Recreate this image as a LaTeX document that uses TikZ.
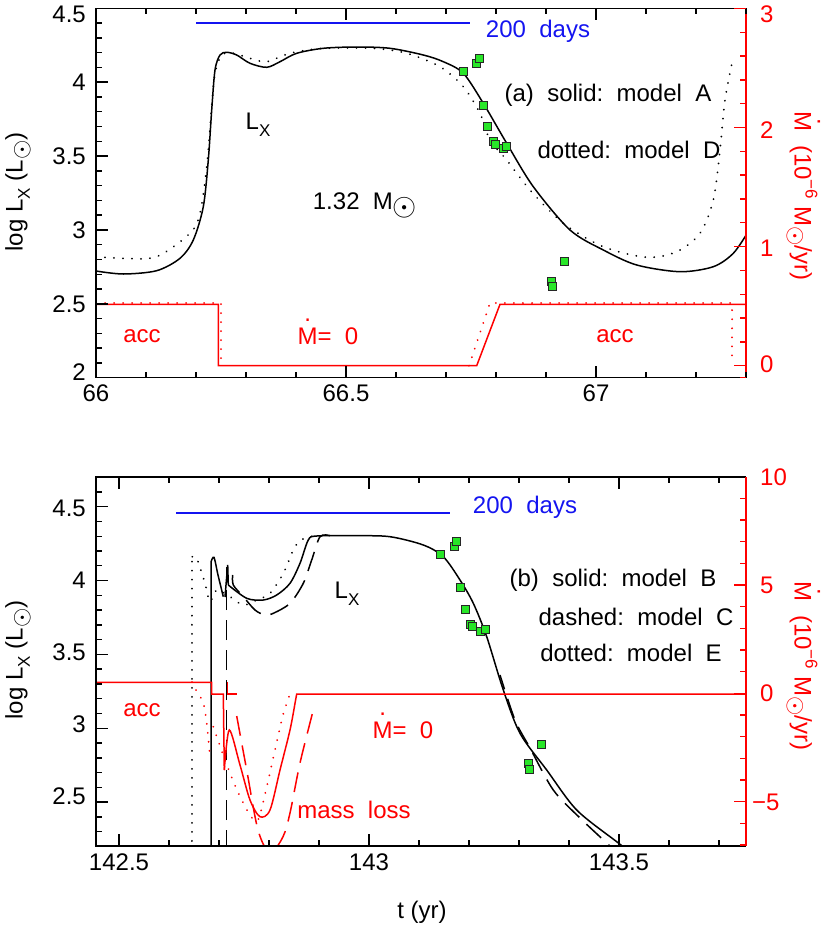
\documentclass[tikz,border=0pt]{standalone}
\usepackage{fontspec}
\usepackage{graphicx}
\setmainfont{Liberation Sans}
\definecolor{sqg}{RGB}{40,230,40}
\definecolor{dayblue}{RGB}{20,20,240}
\newcommand\sbx[1]{\raisebox{-0.3em}{\fontsize{17}{17}\selectfont #1}}
\newcommand\spx[1]{\raisebox{0.45em}{\fontsize{17}{17}\selectfont #1}}
\newcommand\sunsym{\raisebox{-0.25em}{\scalebox{1.25}{$\odot$}}}
\newcommand\sunsml{\raisebox{-0.25em}{\scalebox{1.0}{$\odot$}}}
\newcommand\Mdt{\ooalign{M\cr\hidewidth\raisebox{0.95em}{.}\hidewidth\cr}}
\tikzset{
 every node/.style={font=\fontsize{24}{28}\selectfont, inner sep=0pt},
 fr/.style={line width=1.4pt},
 cv/.style={line width=1.5pt},
 dotl/.style={line width=2pt, dash pattern=on 0.01pt off 9pt, line cap=round},
 dashl/.style={line width=1.5pt, dash pattern=on 20pt off 10pt},
 sq/.style={draw=black!85, fill=sqg, minimum size=8pt, line width=0.8pt},
}
\begin{document}
\begin{tikzpicture}[x=1pt,y=-1pt]
\useasboundingbox (0,0) rectangle (830,926);
% ================= TOP PANEL =================
\begin{scope}
\clip (96,8.3) rectangle (746,377.7);
\draw[cv] plot[smooth,tension=0.5] coordinates{(96,271)(123.3,274)(156.7,270.7)(180,258.3)(193.3,240)(203.3,206.7)(208.3,160)(211.7,110)(215,70)(220,55)(226.7,52.3)(236.7,55)(250,63.3)(266.7,67.3)(280,61.7)(296.7,53.3)(323.3,48.3)(356.7,47)(390,48.3)(423.3,55)(443.3,61.7)(463.3,73.3)(483.3,103.3)(506.7,143.3)(533.3,186.7)(570,230)(603.3,250)(636.7,265)(680,271.7)(713.3,266.7)(733.3,253.3)(748,232)};
\draw[dotl] plot[smooth,tension=0.5] coordinates{(96,256.7)(123.3,258.3)(156.7,256.7)(190,233.3)(200,213.3)(206.7,166.7)(211.7,106.7)(215,73.3)(221.7,55)(233.3,53.3)(250,58.3)(266.7,61.7)(290,53.3)(323.3,48.3)(373.3,48.3)(406.7,53.3)(440,66.7)(463.3,86.7)(480,113.3)(490,140)(506.7,160)(530,190)(563.3,223.3)(603.3,246.7)(646.7,257.3)(676.7,251.7)(700,233.3)(713.3,200)(720,150)(725,100)(733.3,56.7)};
\draw[cv,red] (96,304.3) -- (218.3,304.3) -- (218.3,365.7) -- (476.7,365.7) -- (500,304.3) -- (746,304.3);
\draw[dotl,red] (96,303) -- (221,303) -- (221,365.7) (469,365.7) -- (490,303) -- (732,303) -- (732,362);
\end{scope}
\draw[fr] (746,8.3) -- (96,8.3) -- (96,377.7) -- (746,377.7);
\draw[fr,red] (746,8.3) -- (746,377.7);
\foreach \i in {0,...,13}{\draw[fr] (96+50*\i,377.7) -- ++(0,-6) (96+50*\i,8.3) -- ++(0,6);}
\foreach \i in {0,5,10}{\draw[fr] (96+50*\i,377.7) -- ++(0,-12) (96+50*\i,8.3) -- ++(0,12);}
\foreach \i in {0,...,25}{\draw[fr] (96,8.3+14.776*\i) -- ++(6,0);}
\foreach \i in {0,5,...,25}{\draw[fr] (96,8.3+14.776*\i) -- ++(12,0);}
\foreach \i in {0,...,15}{\draw[fr,red] (746,365.7-23.82*\i) -- ++(-6,0);}
\draw[fr,red] (746,377.7) -- ++(-6,0);
\foreach \i in {0,5,10,15}{\draw[fr,red] (746,365.7-23.82*\i) -- ++(-12,0);}
\node[anchor=north] (x66) at (96,385) {66};
\node[anchor=north] (x665) at (346,385) {66.5};
\node[anchor=north] (x67) at (596,385) {67};
\node[anchor=east] (y45) at (86,14) {4.5};
\node[anchor=east] (y4) at (86,82) {4};
\node[anchor=east] (y35) at (86,156) {3.5};
\node[anchor=east] (y3) at (86,230) {3};
\node[anchor=east] (y25) at (86,304) {2.5};
\node[anchor=east] (y2) at (86,372) {2};
\node[anchor=west,red] (r3) at (760,14) {3};
\node[anchor=west,red] (r2) at (760,130) {2};
\node[anchor=west,red] (r1) at (760,248) {1};
\node[anchor=west,red] (r0) at (760,364) {0};
\node[rotate=90] (ylt) at (18,192) {log L\sbx{X} (L\sunsml)};
\node[rotate=-90,red] (yrt) at (802,196) {\Mdt\ \ (10\spx{−6} M\sunsml/yr)};
\fill[dayblue] (196,22.3) rectangle (470,24.3);
\node[text=dayblue] (d1) at (538,31) {200\ \ days};
\node (lx1) at (258,125) {L\sbx{X}};
\node (m132) at (365,205) {1.32\ \ M\sunsym};
\node (a1) at (608,95) {(a)\ \ solid:\ \ model\ \ A};
\node (a2) at (629,150) {dotted:\ \ model\ \ D};
\node[red] (acc1) at (142,336) {acc};
\node[red] (md1) at (328,336) {\Mdt=\ \ 0};
\node[red] (acc2) at (615,336) {acc};
\foreach \n/\x/\y in {1/463.3/71.7,2/476.7/63.3,3/479/58.3,4/483.3/105,5/487.3/126.7,6/493.3/141.7,7/495/144,8/503.3/148.3,9/506.7/146.7,10/551.7/281,11/552.7/286.7,12/564.3/261.7}
  \node[sq] (s\n) at (\x,\y) {};
% ================= BOTTOM PANEL =================
\begin{scope}
\clip (96,477) rectangle (746,846);
\draw[cv] (211,850) -- (211,562) plot[smooth,tension=0.5] coordinates{(211,562)(214,557.3)(218,575)(223.3,596.7)};
\draw[cv] (225,597) -- (227.7,565) -- (228.3,585);
\draw[cv] plot[smooth,tension=0.5] coordinates{(228.3,585)(246.7,598.3)(263.3,600)(276.7,595)(290,583.3)(300,563.3)(308.3,540)(316.7,536)(356.7,535.7)(390,536.7)(423.3,545)(443.3,556.7)(460,580)(473.3,603.3)(486.7,636.7)(503.3,690)(520,733.3)(546.7,770)(576.7,810)(616.7,841.7)(625,848)};
\draw[dashl] (226.7,850) -- (226.7,567);
\draw[dashl] plot[smooth,tension=0.5] coordinates{(232.7,575)(233.3,585)(243.3,596.7)(255,610)(265,615)(273.3,613.3)(290,603.3)(303.3,583.3)(311.7,560)(320,536.7)(330,535.7)};
\draw[dashl,dash phase=5pt] plot[smooth,tension=0.5] coordinates{(500,675)(515,720)(530,748)(553.3,790)(580,818)(610,846)};
\draw[dotl] (192.3,850) -- (192.3,556.7);
\draw[dotl] plot[smooth,tension=0.5] coordinates{(192.3,556.7)(196.7,558.3)(205,583.3)(210,601.7)(216.7,590)(230,596.7)(243.3,605)(256.7,600)(270,593.3)(283.3,573.3)(293.3,550)(300,540.7)(310,536.7)(320,535.7)};
\draw[cv,red] (96,682.3) -- (211.7,682.3) -- (211.7,694) -- (223.3,694) -- (224.3,770);
\draw[cv,red] (227.7,682.3) -- (227.7,694) -- (236.7,694);
\draw[cv,red] plot[smooth,tension=0.5] coordinates{(224.3,770)(229.3,730)(240,765)(250,800)(260,816.7)(270,810)(280,770)(290,730)(295,703.3)} -- (296.7,694) -- (746,694);
\draw[dotl,red] plot[smooth,tension=0.5] coordinates{(192,682)(196,690)(203.3,703)(206.7,723)(210,756.7)};
\draw[dotl,red] plot[smooth,tension=0.5] coordinates{(213.3,726.7)(225,760)(237,790)(250,815)(258,820)(266,790)(275,750)(283,715)(290,694)};
\draw[dashl,red] plot[smooth,tension=0.5] coordinates{(236.7,716)(246.7,770)(258,830)(270,853)(283,836.7)(290,813)(300,763)(313.3,710)};
\end{scope}
\draw[fr] (746,477) -- (96,477) -- (96,846) -- (746,846);
\draw[fr,red] (746,477) -- (746,846);
\foreach \i in {0,...,12}{\draw[fr] (119+50*\i,846) -- ++(0,-6) (119+50*\i,477) -- ++(0,6);}
\foreach \i in {0,5,10}{\draw[fr] (119+50*\i,846) -- ++(0,-12) (119+50*\i,477) -- ++(0,12);}
\foreach \i in {-1,...,22}{\draw[fr] (96,506.7+14.77*\i) -- ++(6,0);}
\foreach \i in {0,5,...,20}{\draw[fr] (96,506.7+14.77*\i) -- ++(12,0);}
\foreach \i in {-7,...,9}{\draw[fr,red] (746,693.3-21.67*\i) -- ++(-6,0);}
\foreach \i in {-5,0,5}{\draw[fr,red] (746,693.3-21.67*\i) -- ++(-12,0);}
\node[anchor=north] (b1) at (119,854) {142.5};
\node[anchor=north] (b2) at (369,854) {143};
\node[anchor=north] (b3) at (619,854) {143.5};
\node (tyr) at (422,912) {t (yr)};
\node[anchor=east] (z45) at (86,508) {4.5};
\node[anchor=east] (z4) at (86,580) {4};
\node[anchor=east] (z35) at (86,652) {3.5};
\node[anchor=east] (z3) at (86,724) {3};
\node[anchor=east] (z25) at (86,796) {2.5};
\node[anchor=west,red] (q10) at (760,477) {10};
\node[anchor=west,red] (q5) at (760,585) {5};
\node[anchor=west,red] (q0) at (760,693) {0};
\node[anchor=west,red] (qm5) at (752,802) {−5};
\node[rotate=90] (ylb) at (18,660) {log L\sbx{X} (L\sunsml)};
\node[rotate=-90,red] (yrb) at (802,666) {\Mdt\ \ (10\spx{−6} M\sunsml/yr)};
\fill[dayblue] (176,512.3) rectangle (450,514.3);
\node[text=dayblue] (d2) at (525,507) {200\ \ days};
\node (lx2) at (347,594) {L\sbx{X}};
\node (b1t) at (613,580) {(b)\ \ solid:\ \ model\ \ B};
\node (b2t) at (636,617) {dashed:\ \ model\ \ C};
\node (b3t) at (631,653) {dotted:\ \ model\ \ E};
\node[red] (acc3) at (142,710) {acc};
\node[red] (md2) at (403,730) {\Mdt=\ \ 0};
\node[red] (ml) at (354,810) {mass\ \ loss};
\foreach \n/\x/\y in {1/440.7/554,2/454/546,3/456.7/541,4/460/587.3,5/465/609.3,6/470/624,7/472.3/626.7,8/480.7/631.7,9/485/629.3,10/528.3/763.3,11/529.3/769.3,12/541.7/744.3}
  \node[sq] (u\n) at (\x,\y) {};
\end{tikzpicture}
\end{document}
